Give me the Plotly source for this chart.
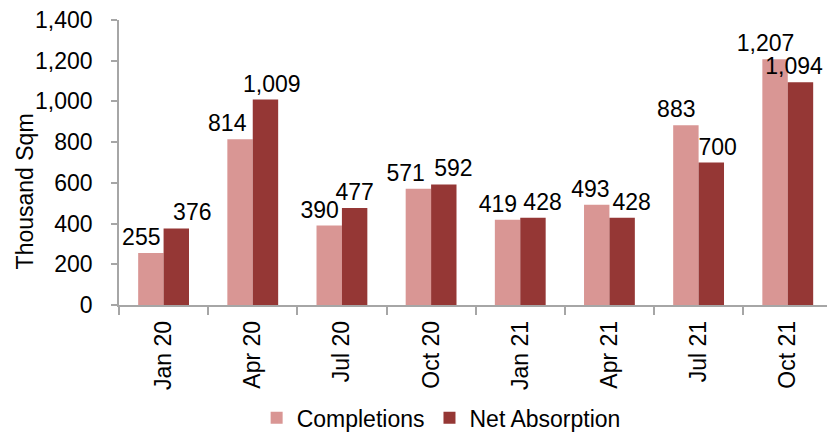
import plotly.graph_objects as go

categories = ["Jan 20", "Apr 20", "Jul 20", "Oct 20", "Jan 21", "Apr 21", "Jul 21", "Oct 21"]
completions = [255, 814, 390, 571, 419, 493, 883, 1207]
net_absorption = [376, 1009, 477, 592, 428, 428, 700, 1094]
y_title = "Thousand Sqm"

FONT = "Liberation Sans, Arial, sans-serif"
FS = 23

# label horizontal nudges (in non-breaking spaces; + = right, - = left)
comp_shift = [-3, -4, -3, -4, -3, -2, -3, -3]
net_shift = [5, 2, 0, 3, 3, 3, 2, -2]


def labels(values, shifts):
    out = []
    for v, s in zip(values, shifts):
        pad = "\u00a0" * abs(s)
        t = f"{v:,}"
        out.append(pad + t if s > 0 else t + pad)
    return out


fig = go.Figure()
fig.add_trace(go.Bar(
    x=categories, y=completions, name="Completions",
    marker=dict(color="#D99694", line=dict(width=0)),
    text=labels(completions, comp_shift), textposition="outside",
    textangle=0, constraintext="none", cliponaxis=False,
    textfont=dict(size=FS, color="black", family=FONT),
))
fig.add_trace(go.Bar(
    x=categories, y=net_absorption, name="Net Absorption",
    marker=dict(color="#953735", line=dict(width=0)),
    text=labels(net_absorption, net_shift), textposition="outside",
    textangle=0, constraintext="none", cliponaxis=False,
    textfont=dict(size=FS, color="black", family=FONT),
))

fig.update_layout(
    width=827, height=433,
    margin=dict(l=119, r=0, t=20, b=128, autoexpand=False),
    paper_bgcolor="white", plot_bgcolor="white",
    font=dict(family=FONT, size=FS, color="black"),
    barmode="group", bargap=0.43, bargroupgap=0,
    showlegend=True,
    legend=dict(orientation="h", x=0.455, xanchor="center", y=-0.396, yanchor="middle",
                font=dict(size=FS), itemwidth=30, traceorder="normal"),
    annotations=[dict(
        text=y_title, xref="paper", yref="paper", x=-0.133, y=0.398,
        xanchor="center", yanchor="middle", textangle=-90, showarrow=False,
        font=dict(size=FS, color="black", family=FONT),
    )],
)
fig.update_xaxes(
    type="category", range=[-0.5, 7.44], automargin=False,
    showline=True, linecolor="#A6A6A6", linewidth=1.5,
    ticks="outside", ticklen=8, tickcolor="#A6A6A6", tickwidth=1.5,
    tickson="boundaries", tickangle=-90, ticklabelstandoff=5,
    tickfont=dict(size=FS), showgrid=False, zeroline=False,
)
fig.update_yaxes(
    range=[0, 1400], dtick=200, tickformat=",", automargin=False,
    showline=True, linecolor="#A6A6A6", linewidth=1.5,
    ticks="outside", ticklen=6, tickcolor="#A6A6A6", tickwidth=1.5,
    ticklabelstandoff=14,
    tickfont=dict(size=FS), showgrid=False, zeroline=False,
)

fig.write_html(
    "out.html",
    config={"displayModeBar": False},
    post_script="document.body.style.margin='0';document.body.style.overflow='hidden';",
)
